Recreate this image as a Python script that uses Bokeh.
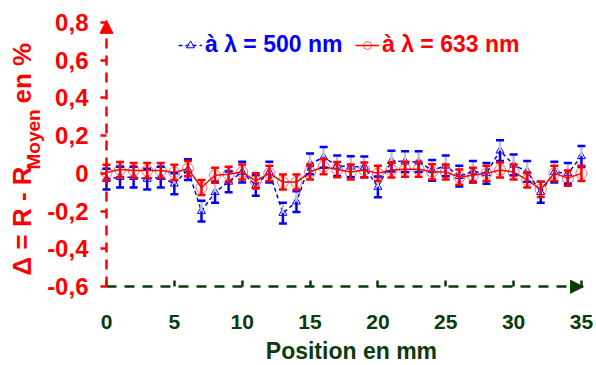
from bokeh.plotting import figure
from bokeh.models import (ColumnDataSource, Whisker, TeeHead, NormalHead, Arrow, Label,
                          Legend, LegendItem, FixedTicker, CustomJSTickFormatter, Range1d,
                          LinearAxis)
from bokeh.embed import file_html
from bokeh.resources import INLINE

# ---- data ----
position_mm = list(range(0, 36))
delta_500 = [-0.03, -0.02, -0.02, -0.03, -0.02, -0.055, 0.02, -0.2, -0.1, -0.045,
             0.007, -0.064, 0.007, -0.21, -0.15, 0.05, 0.085, 0.04, 0.035, 0.034,
             -0.072, 0.065, 0.062, 0.062, 0.016, 0.04, -0.015, 0.01, 0.0, 0.12,
             0.045, 0.01, -0.1, 0.007, 0.0, 0.09]
delta_633 = [0.005, 0.02, 0.015, 0.015, 0.015, 0.005, 0.025, -0.075, -0.01, -0.005,
             0.007, -0.04, 0.0, -0.046, -0.046, 0.007, 0.035, 0.02, 0.007, 0.018,
             0.0, 0.018, 0.022, 0.022, 0.008, 0.007, -0.02, -0.01, 0.0, 0.018,
             0.007, -0.035, -0.085, 0.0, -0.025, 0.0]
err_500 = [0.055] * 36
err_633 = [0.04] * 36
y_ticks = [-0.6, -0.4, -0.2, 0, 0.2, 0.4, 0.6, 0.8]
y_tick_labels = ["-0,6", "-0,4", "-0,2", "0", "0,2", "0,4", "0,6", "0,8"]
x_ticks = [0, 5, 10, 15, 20, 25, 30, 35]
legend_labels = ["à λ = 500 nm", "à λ = 633 nm"]

BLUE = "#0000ff"
RED = "#ff0000"
GREEN = "#0b3b0b"
FONT = "Liberation Sans"

src_b = ColumnDataSource(dict(
    x=position_mm, y=delta_500,
    lo=[v - e for v, e in zip(delta_500, err_500)],
    hi=[v + e for v, e in zip(delta_500, err_500)]))
src_r = ColumnDataSource(dict(
    x=position_mm, y=delta_633,
    lo=[v - e for v, e in zip(delta_633, err_633)],
    hi=[v + e for v, e in zip(delta_633, err_633)]))

p = figure(width=596, height=365, output_backend="svg", toolbar_location=None,
           x_range=Range1d(-7.81, 36.11), y_range=Range1d(-1.017, 0.915),
           min_border_left=0, min_border_right=0, min_border_top=0, min_border_bottom=0,
           x_axis_type=None, y_axis_type=None, title=None)
p.outline_line_color = None
p.background_fill_color = "white"
p.xgrid.visible = False
p.ygrid.visible = False

yaxis = LinearAxis(ticker=FixedTicker(ticks=y_ticks), fixed_location=0, bounds=(-0.6, 0.8))
yaxis.formatter = CustomJSTickFormatter(args=dict(t=y_ticks, l=y_tick_labels), code="""
    let best = 0;
    for (let i = 0; i < t.length; i++) { if (Math.abs(t[i] - tick) < Math.abs(t[best] - tick)) best = i; }
    return l[best];
""")
yaxis.axis_line_color = RED
yaxis.axis_line_width = 2.5
yaxis.axis_line_dash = "10 7"
yaxis.major_tick_line_color = RED
yaxis.major_tick_line_width = 2.5
yaxis.major_tick_out = 6
yaxis.major_tick_in = 0
yaxis.minor_tick_line_color = None
yaxis.major_label_text_color = RED
yaxis.major_label_text_font = FONT
yaxis.major_label_text_font_style = "bold"
yaxis.major_label_text_font_size = "24px"
yaxis.major_label_standoff = 12
p.add_layout(yaxis, "left")

xaxis = LinearAxis(ticker=FixedTicker(ticks=x_ticks), fixed_location=-0.6, bounds=(0, 35.1))
xaxis.axis_line_color = GREEN
xaxis.axis_line_width = 2.5
xaxis.axis_line_dash = "10 8"
xaxis.major_tick_line_color = GREEN
xaxis.major_tick_line_width = 2.5
xaxis.major_tick_out = 0
xaxis.major_tick_in = 6
xaxis.minor_tick_line_color = None
xaxis.major_label_text_color = GREEN
xaxis.major_label_text_font = FONT
xaxis.major_label_text_font_style = "bold"
xaxis.major_label_text_font_size = "21px"
xaxis.major_label_standoff = 28
p.add_layout(xaxis, "below")

# arrows at the axis ends
p.add_layout(Arrow(end=NormalHead(size=13, fill_color=RED, line_color=RED),
                   x_start=0, y_start=0.72, x_end=0, y_end=0.81, line_alpha=0))
p.add_layout(Arrow(end=NormalHead(size=13, fill_color=GREEN, line_color=GREEN),
                   x_start=34.4, y_start=-0.6, x_end=35.15, y_end=-0.6, line_alpha=0))

# blue series
lb = p.line("x", "y", source=src_b, line_color=BLUE, line_width=1.5, line_dash="4 3")
wb_lo = Whisker(source=src_b, base="x", lower="lo", upper="y", dimension="height",
                line_color=BLUE, line_width=2.5, level="glyph",
                lower_head=TeeHead(size=8, line_color=BLUE, line_width=2.5), upper_head=None)
wb_hi = Whisker(source=src_b, base="x", lower="y", upper="hi", dimension="height",
                line_color="#c4c4d4", line_width=2.5, level="glyph",
                upper_head=TeeHead(size=8, line_color=BLUE, line_width=2.5), lower_head=None)
p.add_layout(wb_hi)
p.add_layout(wb_lo)
mb = p.scatter("x", "y", source=src_b, marker="triangle", size=8, line_color=BLUE,
               fill_color="white", fill_alpha=0.4, line_width=1)

# red series
lr = p.line("x", "y", source=src_r, line_color=RED, line_width=1.5)
wr = Whisker(source=src_r, base="x", lower="lo", upper="hi", dimension="height",
             line_color=RED, line_width=2.5, level="glyph",
             lower_head=TeeHead(size=8, line_color=RED, line_width=2.5),
             upper_head=TeeHead(size=8, line_color=RED, line_width=2.5))
p.add_layout(wr)
mr = p.scatter("x", "y", source=src_r, marker="circle", size=11, line_color=RED,
               line_alpha=0.6, fill_alpha=0, line_width=1)

# legends (one per series to colour the labels)
for label, rends, color, loc in [(legend_labels[0], [lb, mb], BLUE, (178, 307)),
                                 (legend_labels[1], [lr, mr], RED, (355, 307))]:
    lg = Legend(items=[LegendItem(label=label, renderers=rends)], location=loc,
                orientation="horizontal", padding=0, margin=0, border_line_color=None,
                background_fill_alpha=0, glyph_width=24, glyph_height=20, label_standoff=3,
                label_text_color=color, label_text_font=FONT, label_text_font_style="bold",
                label_text_font_size="23px")
    p.add_layout(lg)

# axis titles
p.add_layout(Label(x=18.05, y=-0.94, text="Position en mm", text_align="center",
                   text_baseline="middle", text_color=GREEN, text_font=FONT,
                   text_font_style="bold", text_font_size="23px"))
p.add_layout(Label(x=-6.19, y=-0.54, text="Δ = R - R", angle=90, angle_units="deg",
                   text_align="left", text_baseline="middle", text_color=RED,
                   text_font=FONT, text_font_style="bold", text_font_size="26px"))
p.add_layout(Label(x=-5.38, y=0.0205, text="Moyen", angle=90, angle_units="deg",
                   text_align="left", text_baseline="middle", text_color=RED,
                   text_font=FONT, text_font_style="bold", text_font_size="19px"))
p.add_layout(Label(x=-6.19, y=0.37, text=" en %", angle=90, angle_units="deg",
                   text_align="left", text_baseline="middle", text_color=RED,
                   text_font=FONT, text_font_style="bold", text_font_size="26px"))

open("out.html", "w").write(file_html(p, INLINE))
